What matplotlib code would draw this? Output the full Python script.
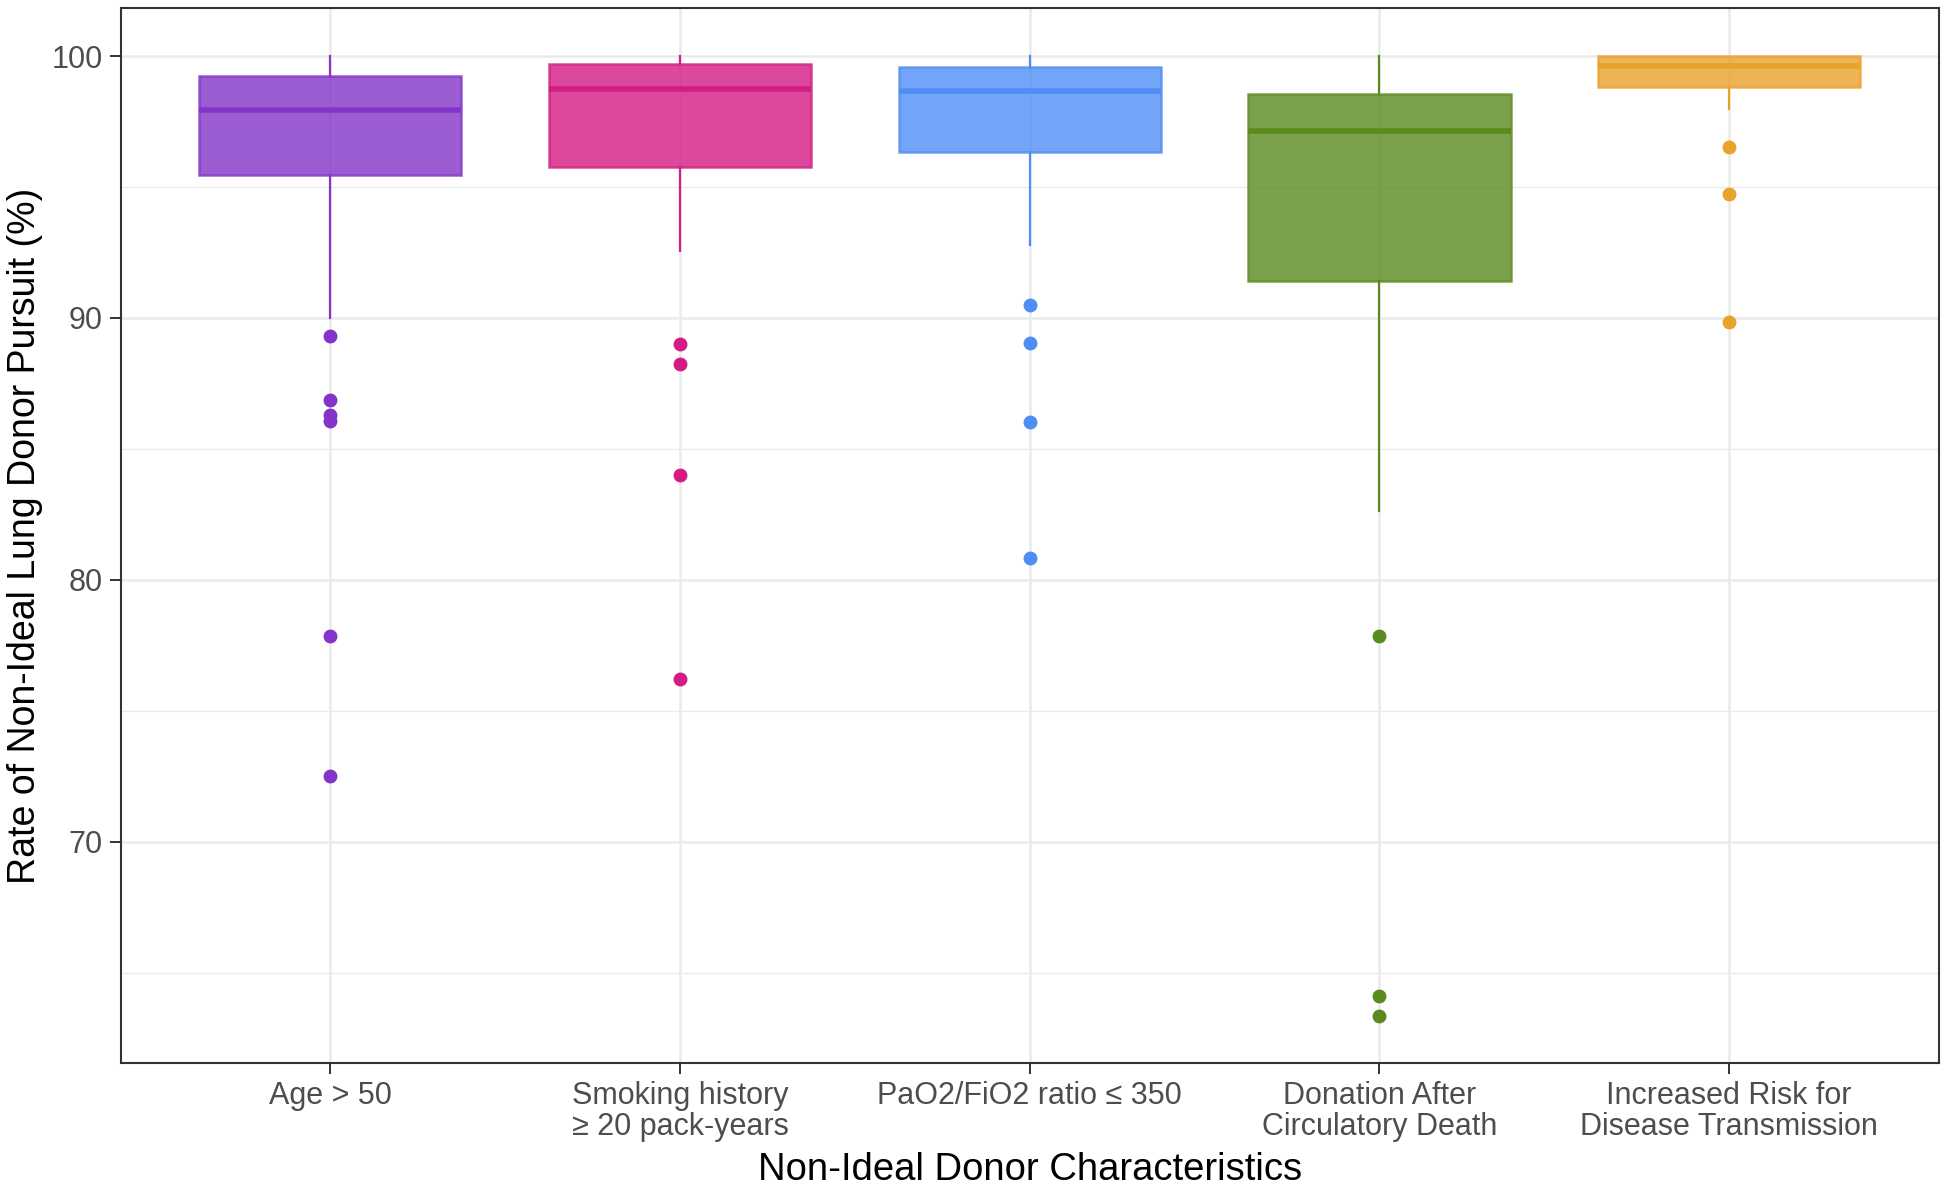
import matplotlib.pyplot as plt
from matplotlib.ticker import MultipleLocator

plt.rcParams.update({
    'font.family': ['Liberation Sans', 'DejaVu Sans'],
    'axes.edgecolor': '#333333',
})

categories = ['Age > 50', 'Smoking history\n≥ 20 pack-years', 'PaO2/FiO2 ratio ≤ 350',
              'Donation After\nCirculatory Death', 'Increased Risk for\nDisease Transmission']
colors = ['#8434C8', '#D41C84', '#4F8DF5', '#5B8A1F', '#E9A22A']

# box statistics (%)
q1 = [95.45, 95.77, 96.32, 91.42, 98.83]
med = [97.94, 98.73, 98.65, 97.12, 99.62]
q3 = [99.22, 99.68, 99.58, 98.56, 100.0]
whis_lo = [90.0, 92.54, 92.80, 82.64, 97.97]
whis_hi = [100.0, 100.0, 100.0, 100.0, 100.0]
outliers = [
    [89.29, 86.85, 86.28, 86.05, 77.84, 72.52],
    [89.01, 88.25, 84.0, 76.21],
    [90.50, 89.03, 86.04, 80.82],
    [77.84, 64.10, 63.33],
    [96.54, 94.73, 89.86],
]


def main():
    fig = plt.figure(figsize=(19.5, 11.93), dpi=100)
    ax = fig.add_axes([0.0618, 0.109, 0.9325, 0.884])

    for i, c in enumerate(colors):
        stats = [{'q1': q1[i], 'med': med[i], 'q3': q3[i],
                  'whislo': whis_lo[i], 'whishi': whis_hi[i], 'fliers': outliers[i]}]
        ax.bxp(stats, positions=[i + 1], widths=0.75, showcaps=False, patch_artist=True,
               boxprops={'facecolor': c, 'edgecolor': c, 'alpha': 0.8, 'linewidth': 1.8},
               medianprops={'color': c, 'linewidth': 4.0, 'solid_capstyle': 'butt'},
               whiskerprops={'color': c, 'linewidth': 1.6},
               flierprops={'marker': 'o', 'markersize': 9, 'markerfacecolor': c,
                           'markeredgecolor': c, 'linestyle': 'none'},
               zorder=3)

    ax.set_xlim(0.4, 5.6)
    ax.set_ylim(61.55, 101.82)
    ax.set_xticks(range(1, 6))
    ax.set_xticklabels(categories, linespacing=1.05)
    ax.yaxis.set_major_locator(MultipleLocator(10))
    ax.yaxis.set_minor_locator(MultipleLocator(5))

    ax.grid(True, which='major', color='#EBEBEB', linewidth=1.8, zorder=0)
    ax.grid(True, which='minor', axis='y', color='#EBEBEB', linewidth=1.0, zorder=0)
    ax.set_axisbelow(True)

    ax.tick_params(axis='both', which='major', labelsize=22, labelcolor='#4D4D4D',
                   color='#333333', length=8, width=1.4, pad=5)
    ax.tick_params(axis='y', which='minor', length=0)
    for s in ax.spines.values():
        s.set_linewidth(1.5)

    ax.set_xlabel('Non-Ideal Donor Characteristics', fontsize=27.5, color='black', labelpad=7)
    ax.set_ylabel('Rate of Non-Ideal Lung Donor Pursuit (%)', fontsize=27, color='black', labelpad=6)

    fig.savefig('out.png', dpi=100)
    plt.close(fig)


if __name__ == '__main__':
    main()
